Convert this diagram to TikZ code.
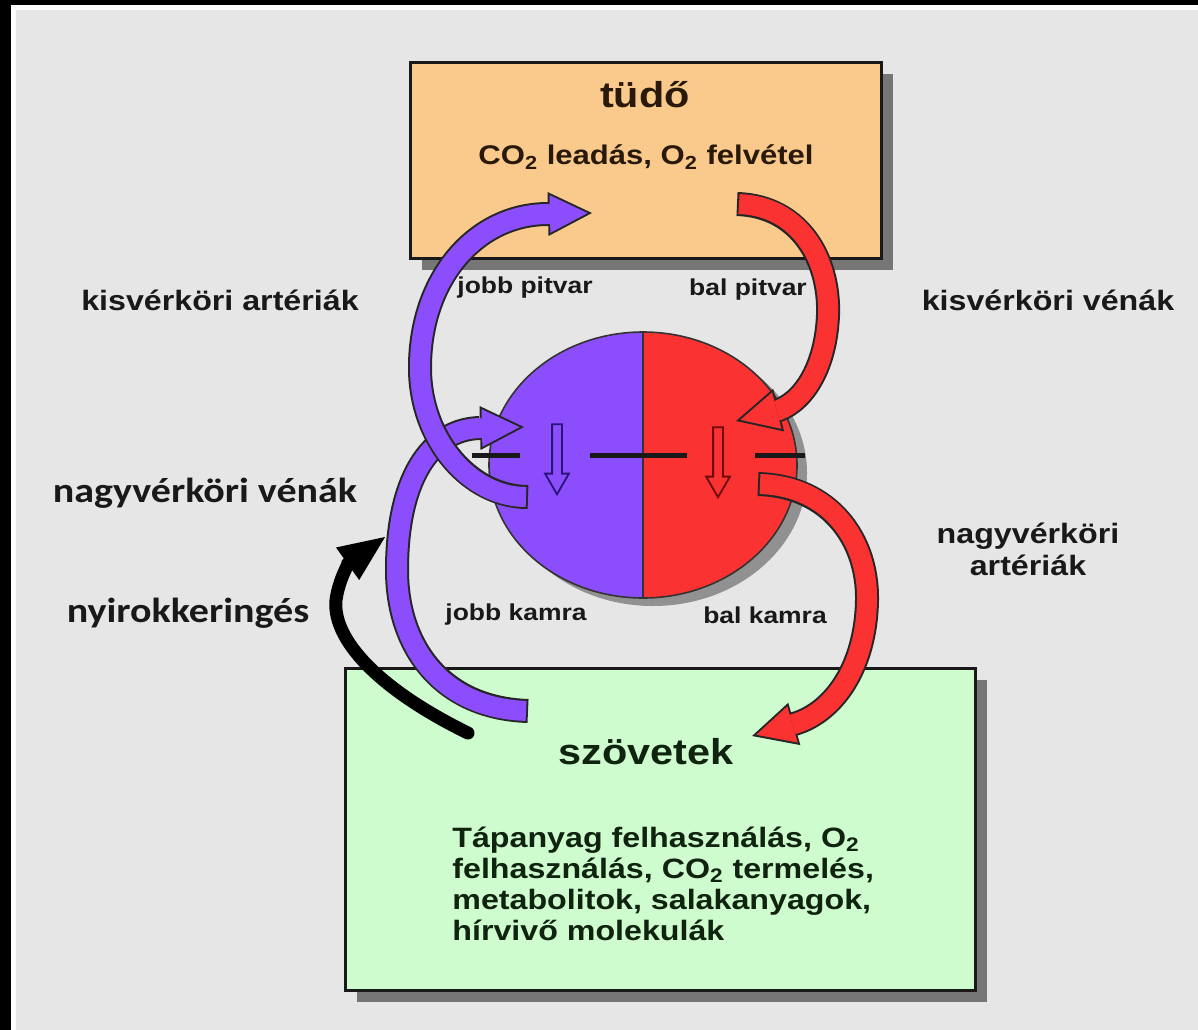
\documentclass[tikz,border=0pt]{standalone}
\usepackage{fontspec}
\setmainfont{Liberation Sans}[FakeStretch=1.15]
\newfontfamily\calibri{Carlito}[FakeStretch=1.15]
\usepackage{tikz}
\usetikzlibrary{shapes,arrows.meta,shadows,positioning}

\definecolor{bggray}{RGB}{230,230,230}
\definecolor{lungfill}{RGB}{250,202,140}
\definecolor{tissuefill}{RGB}{207,252,207}
\definecolor{vio}{RGB}{140,78,252}
\definecolor{arter}{RGB}{250,50,50}
\definecolor{shade}{RGB}{118,118,118}
\definecolor{ink}{RGB}{25,25,25}
\definecolor{lungink}{RGB}{40,25,10}
\definecolor{tissueink}{RGB}{15,35,15}
\definecolor{navy}{RGB}{40,20,120}
\definecolor{blood}{RGB}{110,10,10}

% thick band arrow: dark edge first, colour on top
\newcommand\bandarrow[2]{\draw[bandedge] #2; \draw[bandfill,draw=#1] #2;}

\begin{document}
\begin{tikzpicture}[x=0.5pt,y=-0.5pt]
  \tikzstyle{box}=[rectangle,draw=black!90,line width=1.5pt,inner sep=0pt,drop shadow={shadow xshift=6pt,shadow yshift=-6pt,fill=shade,opacity=1}]
  \tikzstyle{title}=[font=\fontsize{18pt}{20pt}\selectfont\bfseries,inner sep=0pt]
  \tikzstyle{label}=[font=\fontsize{14pt}{16pt}\selectfont\bfseries,text=ink,inner sep=0pt]
  \tikzstyle{chamber}=[font=\fontsize{11.5pt}{13pt}\selectfont\bfseries,text=ink,inner sep=0pt]
  \tikzstyle{hand}=[font=\calibri\fontsize{17.4pt}{20pt}\selectfont\bfseries,text=ink,inner sep=0pt]
  \tikzstyle{bandedge}=[line width=12pt,draw=black!85,-{Triangle[length=22pt,width=22pt,line width=0pt]}]
  \tikzstyle{bandfill}=[line width=10pt,shorten <=1pt,shorten >=2.24pt,-{Triangle[length=18.8pt,width=18.8pt,line width=0pt]}]
  \tikzstyle{lymph}=[line width=6.5pt,line cap=round,draw=black,-{Triangle[length=23pt,width=20pt,line width=0pt]}]
  \tikzstyle{valve}=[draw=black!90,line width=2.5pt]
  \tikzstyle{flow}=[single arrow,minimum height=35pt,minimum width=0pt,inner sep=2pt,single arrow head extend=3.5pt,single arrow tip angle=60,line width=0.9pt,rotate=-90]

  % frame
  \useasboundingbox (0,0) rectangle (1198,1029);
  \fill[bggray] (0,0) rectangle (1210,1040);
  \fill[white] (11,5) rectangle (1210,10);
  \fill[white] (11,5) rectangle (16,1040);
  \fill[black] (0,0) rectangle (1210,5);
  \fill[black] (0,0) rectangle (11,1040);

  % lung and tissues
  \node[box,fill=lungfill,minimum width=235.5pt,minimum height=98pt] (lung) at (645.5,160) {};
  \node[box,fill=tissuefill,minimum width=315pt,minimum height=161pt] (tissue) at (660,829) {};
  \node[title,text=lungink] (lungtitle) at (645,95) {tüdő};
  \node[font=\fontsize{13.5pt}{15pt}\selectfont\bfseries,text=lungink,inner sep=0pt] (lungtext) at (646,157) {CO\textsubscript{2} leadás, O\textsubscript{2} felvétel};
  \node[title,text=tissueink] (tissuetitle) at (646,752) {szövetek};
  \node[font=\fontsize{14pt}{15.5pt}\selectfont\bfseries,text=tissueink,inner sep=0pt,align=left,anchor=west] (tissuetext) at (452,884)
    {Tápanyag felhasználás, O\textsubscript{2}\\felhasználás, CO\textsubscript{2} termelés,\\metabolitok, salakanyagok,\\hírvivő molekulák};

  % heart
  \node[ellipse,draw=black!80,line width=0.8pt,fill=arter,minimum width=154pt,minimum height=133pt,inner sep=0pt,
        drop shadow={shadow xshift=5pt,shadow yshift=-4pt,fill=shade!80,opacity=1},
        path picture={\fill[vio] (path picture bounding box.north west) rectangle (path picture bounding box.south);
                      \draw[black!80,line width=0.8pt] (path picture bounding box.north) -- (path picture bounding box.south);}]
        (heart) at (643,465) {};
  \node[flow,draw=navy,fill=vio] (rflow) at (557,455) {};
  \node[flow,draw=blood,fill=arter] (lflow) at (718,458) {};

  % ends of the vessels
  \coordinate (rvOut) at (528,497);
  \coordinate (lungIn) at (592,213);
  \coordinate (tissueOut) at (528,711);
  \coordinate (raIn) at (524,427);
  \coordinate (lungOut) at (737,204);
  \coordinate (laIn) at (736,421);
  \coordinate (lvOut) at (758,484);
  \coordinate (tissueIn) at (752,736);
  \coordinate (lymphOut) at (468,733);
  \coordinate (lymphIn) at (385,537);

  \bandarrow{vio}{(tissueOut) .. controls (440,708) and (397,645) .. (397,570) .. controls (397,480) and (430,429) .. (480,428) -- (raIn)}
  \bandarrow{vio}{(rvOut) .. controls (470,497) and (421,440) .. (420,370) .. controls (419,280) and (475,214) .. (548,214) -- (lungIn)}
  \bandarrow{arter}{(lungOut) .. controls (800,206) and (830,260) .. (828,315) .. controls (826,365) and (805,400) .. (779,410) -- (laIn)}
  \bandarrow{arter}{(lvOut) .. controls (830,486) and (868,540) .. (867,600) .. controls (866,665) and (835,712) .. (794,724) -- (tissueIn)}
  \draw[lymph] (lymphOut) .. controls (380,690) and (332,640) .. (336,600) .. controls (339,578) and (350,562) .. (lymphIn);

  % valves
  \draw[valve] (472,455) -- (520,455);
  \draw[valve] (590,455) -- (687,455);
  \draw[valve] (755,455) -- (805,455);

  % labels
  \node[label] (smallart) at (220,300) {kisvérköri artériák};
  \node[label] (smallvein) at (1048,300) {kisvérköri vénák};
  \node[label,align=center] (bigart) at (1028,549) {nagyvérköri\\artériák};
  \node[hand] (bigvein) at (205,493) {nagyvérköri vénák};
  \node[hand] (lymphlabel) at (188,613) {nyirokkeringés};
  \node[chamber] (ra) at (525,288) {jobb pitvar};
  \node[chamber] (la) at (748,290) {bal pitvar};
  \node[chamber] (rv) at (516,615) {jobb kamra};
  \node[chamber] (lv) at (765,615) {bal kamra};
\end{tikzpicture}
\end{document}
